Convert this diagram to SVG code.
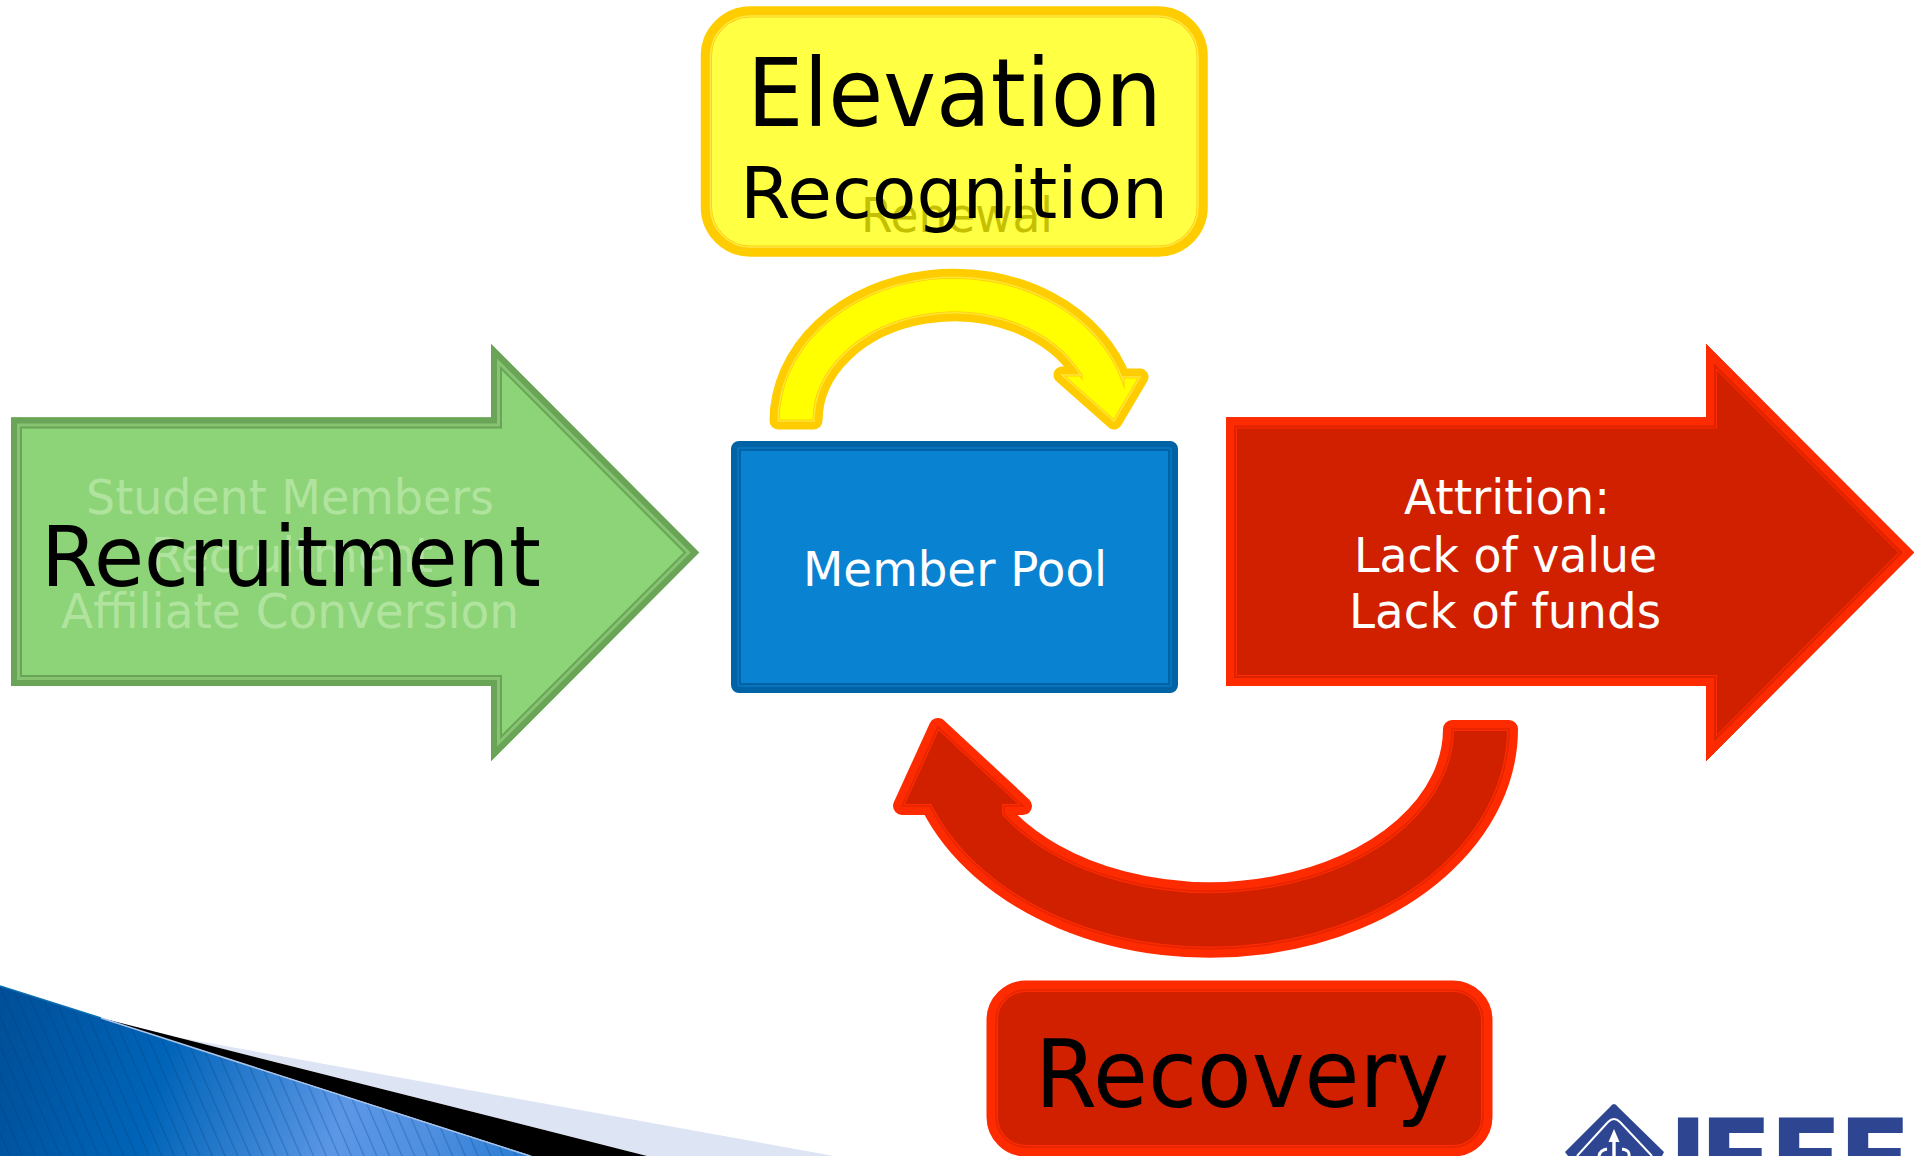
<svg xmlns="http://www.w3.org/2000/svg" width="1927" height="1156" viewBox="0 0 1927 1156">
<style>
text{font-family:"DejaVu Sans","Liberation Sans",sans-serif}
.blk{fill:#000}.wht{fill:#fff}
.f48{font-size:48px}.f72{font-size:72px}.f84{font-size:84px}.f95{font-size:95px}
.faint{fill:#b0e49e}
use{stroke-linejoin:miter;stroke-miterlimit:10}
use.rj{stroke-linejoin:round}
</style>
<defs>
<path id="sGreen" d="M11,417.5H491V344L699,552.5L491,761V686H11Z"/>
<path id="sRed" d="M1226,417.5H1706V344L1914,552.5L1706,761V686H1226Z"/>
<path id="sYellowArrow" d="M778,421A176,144 0 0 1 1123,381V377H1140L1114,421L1062,375H1081V375.5A140,108 0 0 0 814,421Z"/>
<path id="sRedArrow" d="M1509,729A299,220 0 0 1 930,806H902L938,727L1023,806H1004V814A242,162 0 0 0 1452,729Z"/>
<rect id="sYellowBox" x="710.5" y="16" width="487.5" height="231" rx="40"/>
<rect id="sRecBox" x="996" y="990" width="487" height="157" rx="30"/>
<rect id="sBlue" x="738" y="448" width="433" height="238" rx="1"/>
<clipPath id="cGreen"><use href="#sGreen"/></clipPath>
<clipPath id="cRed"><use href="#sRed"/></clipPath>
<clipPath id="cYA"><use href="#sYellowArrow"/></clipPath>
<clipPath id="cRA"><use href="#sRedArrow"/></clipPath>
<clipPath id="cYB"><use href="#sYellowBox"/></clipPath>
<clipPath id="cRB"><use href="#sRecBox"/></clipPath>
<clipPath id="cBl"><use href="#sBlue"/></clipPath>
<linearGradient id="gBlue" gradientUnits="userSpaceOnUse" x1="0" y1="1000" x2="560" y2="1156">
<stop offset="0" stop-color="#004f98"/><stop offset=".3" stop-color="#0064b8"/><stop offset=".62" stop-color="#5c97e6"/><stop offset=".78" stop-color="#4f8fe0"/><stop offset="1" stop-color="#1a76cf"/>
</linearGradient>
<pattern id="hatch" patternUnits="userSpaceOnUse" width="11.6" height="10" patternTransform="rotate(-23.5)">
<rect x="0" y="0" width="1.2" height="10" fill="#003a78" fill-opacity=".3"/>
</pattern>
</defs>
<rect width="1927" height="1156" fill="#fff"/>

<g id="background-swoosh">
<polygon points="101,1018 148,1032 834,1156 647,1156" fill="#dde4f4"/>
<polygon points="101,1018 647,1156 532,1156" fill="#000"/>
<polygon points="0,986 101,1018 532,1156 0,1156" fill="url(#gBlue)"/>
<polygon points="0,986 101,1018 532,1156 0,1156" fill="url(#hatch)"/>
<path d="M101,1018L530,1156" stroke="#a9c3e8" stroke-width="1.5" fill="none"/>
<path d="M0,986L101,1018" stroke="#0a6fb0" stroke-width="1.5" fill="none"/>
</g>

<g id="connectors">
<g id="renewal-arrow">
<use href="#sYellowArrow" fill="none" stroke="#ffcc00" stroke-width="17" class="rj"/>
<use href="#sYellowArrow" fill="#ffff00"/>
<g clip-path="url(#cYA)"><use href="#sYellowArrow" fill="none" stroke="#ffcc00" stroke-width="3"/></g>
<use href="#sYellowArrow" fill="none" stroke="#ffe535" stroke-width="1.5"/>
</g>
<g id="recovery-arrow">
<use href="#sRedArrow" fill="none" stroke="#ff2b00" stroke-width="18" class="rj"/>
<use href="#sRedArrow" fill="#d12000"/>
<g clip-path="url(#cRA)"><use href="#sRedArrow" fill="none" stroke="#ff2b00" stroke-width="4"/></g>
<use href="#sRedArrow" fill="none" stroke="#e42400" stroke-width="1.5"/>
</g>
</g>

<g id="node-elevation">
<use href="#sYellowBox" fill="none" stroke="#ffcc00" stroke-width="19.5"/>
<use href="#sYellowBox" fill="#ffff44"/>
<g clip-path="url(#cYB)"><use href="#sYellowBox" fill="none" stroke="#ffcc00" stroke-width="3"/></g>
<use href="#sYellowBox" fill="none" stroke="#ffe94a" stroke-width="1.5"/>
<text x="861" y="232" class="f48" fill="#c4c000" textLength="192" lengthAdjust="spacingAndGlyphs">Renewal</text>
<text x="747" y="126" class="f95 blk" textLength="415" lengthAdjust="spacingAndGlyphs">Elevation</text>
<text x="740" y="218" class="f72 blk" textLength="428" lengthAdjust="spacingAndGlyphs">Recognition</text>
</g>

<g id="node-recruitment">
<use href="#sGreen" fill="#8dd378"/>
<g clip-path="url(#cGreen)">
<use href="#sGreen" fill="none" stroke="#6aa457" stroke-width="22"/>
<use href="#sGreen" fill="none" stroke="#86c472" stroke-width="18"/>
<use href="#sGreen" fill="none" stroke="#6aa457" stroke-width="12"/>
</g>
<text x="86" y="514" class="f48 faint" textLength="408" lengthAdjust="spacingAndGlyphs">Student Members</text>
<text x="151" y="572" class="f48 faint" textLength="282" lengthAdjust="spacingAndGlyphs">Recruitment</text>
<text x="61" y="628" class="f48 faint" textLength="458" lengthAdjust="spacingAndGlyphs">Affiliate Conversion</text>
<text x="41" y="586" class="f84 blk" textLength="500" lengthAdjust="spacingAndGlyphs">Recruitment</text>
</g>

<g id="node-member-pool">
<use href="#sBlue" fill="none" stroke="#0063a5" stroke-width="14" class="rj"/>
<use href="#sBlue" fill="#0a82d2"/>
<g clip-path="url(#cBl)"><use href="#sBlue" fill="none" stroke="#0063a5" stroke-width="6"/></g>
<use href="#sBlue" fill="none" stroke="#0a78c4" stroke-width="1.5"/>
<text x="803" y="586" class="f48 wht" textLength="304" lengthAdjust="spacingAndGlyphs">Member Pool</text>
</g>

<g id="node-attrition">
<use href="#sRed" fill="#d12000"/>
<g clip-path="url(#cRed)">
<use href="#sRed" fill="none" stroke="#ff2b00" stroke-width="22"/>
<use href="#sRed" fill="none" stroke="#dc2200" stroke-width="20"/>
<use href="#sRed" fill="none" stroke="#ff2b00" stroke-width="16"/>
</g>
<text x="1404" y="514" class="f48 wht" textLength="206" lengthAdjust="spacingAndGlyphs">Attrition:</text>
<text x="1354" y="572" class="f48 wht" textLength="303" lengthAdjust="spacingAndGlyphs">Lack of value</text>
<text x="1349" y="628" class="f48 wht" textLength="312" lengthAdjust="spacingAndGlyphs">Lack of funds</text>
</g>

<g id="node-recovery">
<use href="#sRecBox" fill="none" stroke="#ff2b00" stroke-width="19"/>
<use href="#sRecBox" fill="#d12000"/>
<g clip-path="url(#cRB)"><use href="#sRecBox" fill="none" stroke="#ff2b00" stroke-width="4"/></g>
<use href="#sRecBox" fill="none" stroke="#e42400" stroke-width="1.5"/>
<text x="1035" y="1107" class="f95 blk" textLength="414" lengthAdjust="spacingAndGlyphs">Recovery</text>
</g>

<g id="ieee-logo">
<path d="M1614,1104Q1616,1104 1618,1107L1664,1152L1662,1156H1568L1565,1152L1610,1107Q1612,1104 1614,1104Z" fill="#2e4691"/>
<path d="M1577,1156L1608,1122Q1614,1116 1620,1122L1652,1156" fill="none" stroke="#fff" stroke-width="2"/>
<path d="M1614,1129L1619.5,1142H1615.7V1156H1612.3V1142H1608.5Z" fill="#fff"/>
<path d="M1599,1156Q1600,1150 1607,1149M1622,1149Q1630,1150 1629,1156" fill="none" stroke="#fff" stroke-width="3"/>
<text x="1668 1699 1769 1838" y="1197" font-size="108" font-weight="bold" fill="#2e4691">IEEE</text>
</g>
</svg>
